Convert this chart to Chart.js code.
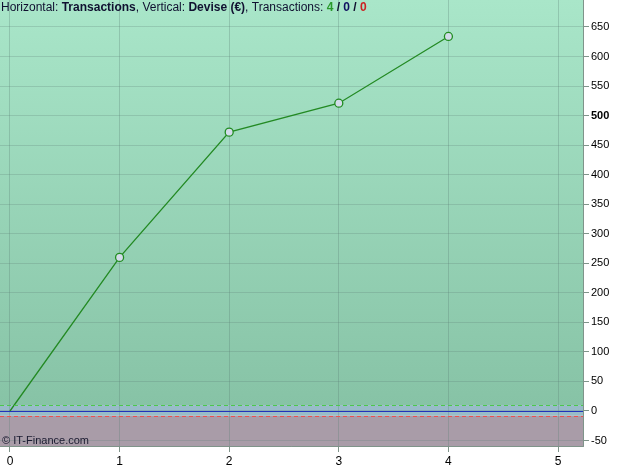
<!DOCTYPE html>
<html lang="fr">
  <head>
    <meta charset="UTF-8" />
    <title>Transactions / Devise</title>
    <script src="https://cdn.jsdelivr.net/npm/chart.js"></script>
    <style>
      body {
        margin: 0;
        background: #fff;
      }
      .chart-container {
        position: relative;
        width: 635px;
        height: 468px;
      }
    </style>
  </head>
  <body>
    <div class="chart-container">
      <canvas id="devChart"></canvas>
    </div>

    <script>
      // data
      const transactions = [0, 1, 2, 3, 4]
      const devise = [0, 260, 472, 521, 634]
      const xTicks = [0, 1, 2, 3, 4, 5]
      const yTicks = [-50, 0, 50, 100, 150, 200, 250, 300, 350, 400, 450, 500, 550, 600, 650]
      const upperLevel = 10
      const lowerLevel = -8

      const FONT = "'Liberation Sans', Arial, sans-serif"

      // background zones, level lines, title and watermark
      const decor = {
        id: "decor",
        beforeDraw(chart) {
          const { ctx, chartArea: a, scales } = chart
          const y = scales.y
          const yUp = y.getPixelForValue(upperLevel)
          const yLow = y.getPixelForValue(lowerLevel)
          ctx.save()
          const g = ctx.createLinearGradient(0, a.top, 0, yUp)
          g.addColorStop(0, "#a9e6c9")
          g.addColorStop(1, "#87c3a6")
          ctx.fillStyle = g
          ctx.fillRect(a.left, a.top, a.right - a.left, yUp - a.top)
          ctx.fillStyle = "#98bcc8"
          ctx.fillRect(a.left, yUp, a.right - a.left, yLow - yUp)
          ctx.fillStyle = "#a99ca8"
          ctx.fillRect(a.left, yLow, a.right - a.left, a.bottom - yLow)
          ctx.restore()
        },
        afterDatasetsDraw(chart) {
          const { ctx, chartArea: a, scales } = chart
          const y = scales.y
          const line = (v, color, dash) => {
            const py = Math.round(y.getPixelForValue(v)) + 0.5
            ctx.beginPath()
            ctx.setLineDash(dash)
            ctx.strokeStyle = color
            ctx.lineWidth = 1
            ctx.moveTo(a.left, py)
            ctx.lineTo(a.right, py)
            ctx.stroke()
          }
          ctx.save()
          line(upperLevel, "#4cc84c", [4, 3])
          line(lowerLevel, "#ec5050", [4, 3])
          line(0, "#2233bb", [])
          ctx.setLineDash([])

          // frame right / bottom
          ctx.strokeStyle = "#7f948a"
          ctx.beginPath()
          ctx.moveTo(a.right - 0.5, a.top)
          ctx.lineTo(a.right - 0.5, a.bottom - 0.5)
          ctx.lineTo(a.left, a.bottom - 0.5)
          ctx.stroke()

          // title
          const parts = [
            ["Horizontal: ", "normal", "#101030"],
            ["Transactions", "bold", "#101030"],
            [", Vertical: ", "normal", "#101030"],
            ["Devise (€)", "bold", "#101030"],
            [", Transactions: ", "normal", "#101030"],
            ["4", "bold", "#2a9a2a"],
            [" / ", "bold", "#101030"],
            ["0", "bold", "#101060"],
            [" / ", "bold", "#101030"],
            ["0", "bold", "#cc2222"],
          ]
          let x = 1
          ctx.textBaseline = "alphabetic"
          parts.forEach(([t, w, c]) => {
            ctx.font = w + " 12px " + FONT
            ctx.fillStyle = c
            ctx.fillText(t, x, 11)
            x += ctx.measureText(t).width
          })

          ctx.font = "11px " + FONT
          ctx.fillStyle = "#1a1a30"
          ctx.fillText("© IT-Finance.com", 2, 444)
          ctx.restore()
        },
      }

      const noPad = (s) => {
        s.paddingTop = 0
        s.paddingBottom = 0
        s.paddingLeft = 0
        s.paddingRight = 0
      }

      const ctx = document.getElementById("devChart").getContext("2d")
      new Chart(ctx, {
        type: "line",
        data: {
          datasets: [
            {
              data: transactions.map((t, i) => ({ x: t, y: devise[i] })),
              borderColor: "#238a23",
              borderWidth: 1.3,
              pointRadius: transactions.map((t) => (t === 0 ? 0 : 4)),
              pointBackgroundColor: "#d3dbea",
              pointBorderColor: "#1f8c1f",
              pointBorderWidth: 1.3,
              fill: false,
              tension: 0,
            },
          ],
        },
        plugins: [decor],
        options: {
          responsive: true,
          maintainAspectRatio: false,
          animation: false,
          layout: { padding: 0, autoPadding: false },
          plugins: {
            legend: { display: false },
            tooltip: { enabled: false },
          },
          scales: {
            x: {
              type: "linear",
              min: -0.091,
              max: 5.237,
              afterBuildTicks: (s) => {
                s.ticks = xTicks.map((v) => ({ value: v }))
              },
              afterFit: (s) => {
                s.height = 21
                noPad(s)
              },
              border: { display: false },
              grid: {
                color: "rgba(90,125,115,0.3)",
                tickColor: "#7f948a",
                tickLength: 5,
              },
              ticks: {
                color: "#000",
                padding: 2,
                maxRotation: 0,
                font: { family: FONT, size: 12 },
              },
            },
            y: {
              position: "right",
              min: -60.94,
              max: 695.7,
              afterBuildTicks: (s) => {
                s.ticks = yTicks.map((v) => ({ value: v }))
              },
              afterFit: (s) => {
                s.width = 51
                noPad(s)
              },
              border: { display: false },
              grid: {
                color: "rgba(90,125,115,0.25)",
                tickColor: "#7f948a",
                tickLength: 5,
              },
              ticks: {
                color: "#000",
                padding: 2,
                font: (c) => ({
                  family: FONT,
                  size: 11,
                  weight: c.tick && c.tick.value === 500 ? "bold" : "normal",
                }),
              },
            },
          },
        },
      })
    </script>
  </body>
</html>
